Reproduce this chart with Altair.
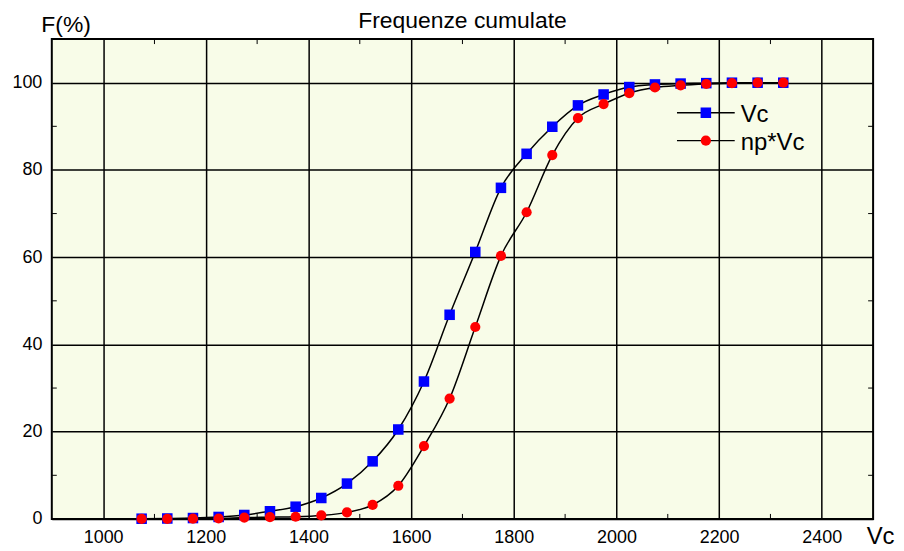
import altair as alt
import pandas as pd

# ---- data ----
vc_classes = [1075, 1125, 1175, 1225, 1275, 1325, 1375, 1425, 1475, 1525, 1575, 1625, 1675,
              1725, 1775, 1825, 1875, 1925, 1975, 2025, 2075, 2125, 2175, 2225, 2275, 2325]
freq_vc = [0.05, 0.1, 0.2, 0.45, 0.9, 1.75, 2.8, 4.8, 8.1, 13.2, 20.5, 31.5, 46.8,
           61.2, 75.9, 83.7, 89.9, 94.8, 97.3, 99.0, 99.6, 99.8, 99.9, 100, 100, 100]
freq_npvc = [0.0, 0.0, 0.05, 0.1, 0.3, 0.4, 0.5, 0.8, 1.5, 3.2, 7.6, 16.7, 27.6,
             44.0, 60.3, 70.3, 83.4, 91.9, 95.1, 97.6, 98.9, 99.4, 99.7, 99.9, 100, 100]
series_names = ["Vc", "np*Vc"]
chart_title = ["Frequenze cumulate"]
x_major = [1000, 1200, 1400, 1600, 1800, 2000, 2200, 2400]
x_minor = [1100, 1300, 1500, 1700, 1900, 2100, 2300]
y_major = [0, 20, 40, 60, 80, 100]
y_minor = [10, 30, 50, 70, 90]
x_domain = [900, 2500]
y_domain = [0, 110]

W, H = 825, 482
FONT = "Liberation Sans"
BLUE = "#0000FF"
RED = "#FF0000"

df = pd.DataFrame({
    "Vc": vc_classes * 2,
    "F": freq_vc + freq_npvc,
    "serie": [series_names[0]] * len(vc_classes) + [series_names[1]] * len(vc_classes),
})

xs = alt.Scale(domain=x_domain, nice=False, zero=False)
ys = alt.Scale(domain=y_domain, nice=False)

x_axis = alt.Axis(values=x_major, format="d", grid=True, gridColor="black", gridWidth=1.5,
                  gridOpacity=1, ticks=False, tickSize=0, domain=False,
                  labelFont=FONT, labelFontSize=18, labelColor="black", labelPadding=10,
                  title="Vc", titleFont=FONT, titleFontSize=24, titleFontWeight="normal",
                  titleColor="black", titleAngle=0, titleAlign="left",
                  titleBaseline="alphabetic", titleX=818, titleY=25)
y_axis = alt.Axis(values=y_major, format="d", grid=True, gridColor="black", gridWidth=1.5,
                  gridOpacity=1, ticks=False, tickSize=0, domain=False,
                  labelFont=FONT, labelFontSize=18, labelColor="black", labelPadding=10,
                  title="F(%)", titleFont=FONT, titleFontSize=23, titleFontWeight="normal",
                  titleColor="black", titleAngle=0, titleAlign="left",
                  titleBaseline="alphabetic", titleX=-11, titleY=-8)

base = alt.Chart(df)

curves = base.mark_line(color="black", strokeWidth=1.5, interpolate="monotone").encode(
    x=alt.X("Vc:Q", scale=xs, axis=x_axis),
    y=alt.Y("F:Q", scale=ys, axis=y_axis),
    detail="serie:N",
)

squares = base.transform_filter(alt.datum.serie == series_names[0]).mark_point(
    shape="square", filled=True, color=BLUE, size=112, opacity=1
).encode(x=alt.X("Vc:Q", scale=xs), y=alt.Y("F:Q", scale=ys))

circles = base.transform_filter(alt.datum.serie == series_names[1]).mark_point(
    shape="circle", filled=True, color=RED, size=105, opacity=1
).encode(x=alt.X("Vc:Q", scale=xs), y=alt.Y("F:Q", scale=ys))

# minor ticks (inward, on all four sides)
mx = pd.DataFrame({"Vc": x_minor})
my = pd.DataFrame({"F": y_minor})
tick_b = alt.Chart(mx).mark_rule(color="black", strokeWidth=1).encode(
    x=alt.X("Vc:Q", scale=xs), y=alt.value(H - 5), y2=alt.value(H))
tick_t = alt.Chart(mx).mark_rule(color="black", strokeWidth=1).encode(
    x=alt.X("Vc:Q", scale=xs), y=alt.value(0), y2=alt.value(5))
tick_l = alt.Chart(my).mark_rule(color="black", strokeWidth=1).encode(
    y=alt.Y("F:Q", scale=ys), x=alt.value(0), x2=alt.value(5))
tick_r = alt.Chart(my).mark_rule(color="black", strokeWidth=1).encode(
    y=alt.Y("F:Q", scale=ys), x=alt.value(W - 5), x2=alt.value(W))

# title as a text mark above the plot
title_mark = alt.Chart(pd.DataFrame({"t": chart_title})).mark_text(
    align="center", baseline="alphabetic", font=FONT, fontSize=23, color="black"
).encode(x=alt.value(W / 2), y=alt.value(-11), text="t:N")

# legend (inside, top right)
def legend_row(label, shape, color, size, ymid, ybase):
    d = pd.DataFrame({"label": [label]})
    seg = alt.Chart(d).mark_rule(color="black", strokeWidth=1.5).encode(
        x=alt.value(628), x2=alt.value(686), y=alt.value(ymid))
    sym = alt.Chart(d).mark_point(shape=shape, filled=True, color=color, size=size, opacity=1).encode(
        x=alt.value(657), y=alt.value(ymid))
    txt = alt.Chart(d).mark_text(align="left", baseline="alphabetic", font=FONT, fontSize=24,
                                 color="black").encode(
        x=alt.value(692), y=alt.value(ybase), text="label:N")
    return [seg, sym, txt]

leg = legend_row(series_names[0], "square", BLUE, 112, 74, 83) + \
      legend_row(series_names[1], "circle", RED, 105, 102, 111)

chart = alt.layer(curves, tick_b, tick_t, tick_l, tick_r, squares, circles, title_mark, *leg).properties(
    width=W, height=H,
    autosize="none",
    padding={"left": 44, "top": 30, "right": 23, "bottom": 31},
).configure(
    background="white",
    view=alt.ViewConfig(stroke="black", strokeWidth=2, fill="#F8FCE8"),
)

chart.save("out.html", embed_options={"renderer": "svg", "actions": False})
